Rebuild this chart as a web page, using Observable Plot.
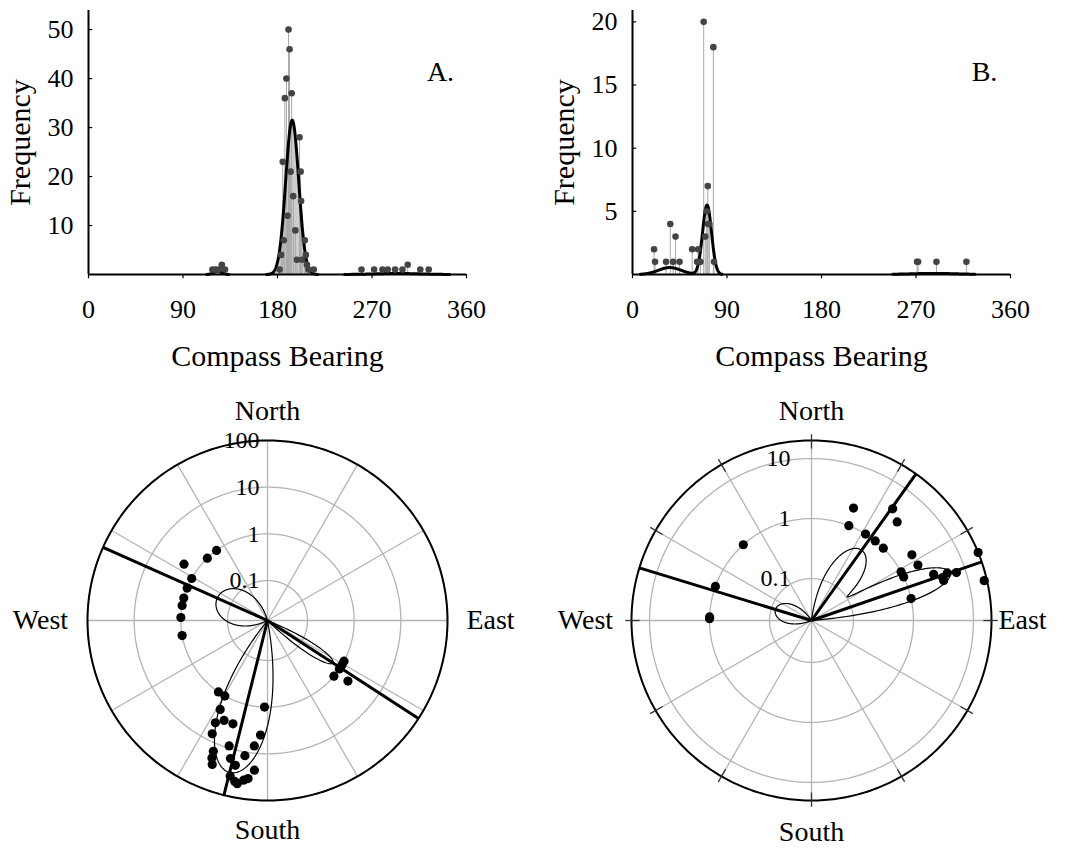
<!DOCTYPE html>
<html><head><meta charset="utf-8">
<script src="https://cdn.jsdelivr.net/npm/d3@7"></script>
<script src="https://cdn.jsdelivr.net/npm/@observablehq/plot@0.6"></script>
<style>
body{margin:0;background:#fff;}
#wrap{position:relative;width:1069px;height:848px;background:#fff;}
#wrap > svg{position:absolute;overflow:visible;}
</style></head><body><div id="wrap"></div>
<script>
// ---------- Panel A data (bearing in degrees, frequency) ----------
const bearingsA = [118,121,124,127,130,
  182,183.5,185,186,187,188.5,189.5,190.5,191.5,192.5,193.5,195,197,198.5,201,202,202.5,203.5,206,207,208,209.5,214.5,
  260,272,280,285,292,299,304,316,324];
const freqA = [1,1,1,2,1,
  1,4,23,7,36,40,12,50,46,21,37,16,9,3,28,21,15,3,7,4,2,1,1,
  1,1,1,1,1,1,2,1,1];
// fitted mixture components (mean direction, peak height, concentration)
const compMuA = [123, 194, 294];
const compPeakA = [0.65, 31.5, 0.21];
const compKappaA = [220, 85, 7.5];

// ---------- Panel B data ----------
const bearingsB = [20.5,21.5,32,36,38.7,41,44.8,56.8,61.5,62.5,64.7,67.8,69.3,70.7,71.7,71.9,73.2,77,77.6,
  271,272,289.5,318];
const freqB = [2,1,1,4,1,3,1,2,1,2,1,20,3,5,7,4,4,18,1,
  1,1,1,1];
const compMuB = [35.5, 71, 287];
const compPeakB = [0.55, 5.5, 0.085];
const compKappaB = [28, 180, 6.4];

// ---------- axes / grid values ----------
const xTicks = [0, 90, 180, 270, 360];
const yTicksA = [10, 20, 30, 40, 50];
const yTicksB = [5, 10, 15, 20];
const yMaxA = 53.9, yMaxB = 20.9;
const ringValsA = [0.1, 1, 10, 100], ringLabelsA = ["0.1", "1", "10", "100"];
const ringValsB = [0.1, 1, 10], ringLabelsB = ["0.1", "1", "10"];
const floorA = 0.0139, outerA = 100;
const floorB = 0.02, outerB = 20;
const spokeAngles = [0,30,60,90,120,150,180,210,240,270,300,330];
const compassLabels = ["North", "South", "West", "East"];

const FONT = "'Liberation Serif','Times New Roman',serif";
const rad = d => d * Math.PI / 180;
const zipData = (bs, fs) => bs.map((b, i) => ({b, f: fs[i]}));
const comps = (mu, pk, ka) => mu.map((m, i) => ({mu: m, peak: pk[i], kappa: ka[i]}));
const density = (b, cs) => d3.sum(cs, c => c.peak * Math.exp(c.kappa * (Math.cos(rad(b - c.mu)) - 1)));
const T = {textAnchor: "middle", lineAnchor: "middle", fontFamily: FONT, fill: "black"};

function histPanel({data, cs, floor, yMax, yTicks, letter, fill, width, marginRight}) {
  const curve = d3.range(0, 360.001, 0.25).map(b => ({b, v: density(b, cs)}));
  const cy = d => d.v >= floor ? d.v : NaN;
  const marks = [];
  if (fill) marks.push(Plot.areaY(curve, {x: "b", y: cy, fill: "#cdcdcd"}));
  marks.push(
    Plot.ruleX(data, {x: "b", y1: 0, y2: "f", stroke: "#a8a8a8", strokeWidth: 1}),
    Plot.line(curve, {x: "b", y: cy, stroke: "black", strokeWidth: 3}),
    Plot.dot(data, {x: "b", y: "f", r: 3.3, fill: "#444", stroke: "none"}),
    Plot.ruleX([0], {stroke: "black", strokeWidth: 2}),
    Plot.ruleY([0], {stroke: "black", strokeWidth: 2}),
    Plot.ruleY(yTicks, {x1: 0, x2: 4, stroke: "black", strokeWidth: 1.2}),
    Plot.ruleX(xTicks, {x: d => d, y1: 0, y2: -yMax * 0.016, stroke: "black", strokeWidth: 1.2}),
    Plot.text(xTicks, {...T, x: d => d, y: 0, text: d => String(d), dy: 35, fontSize: 26}),
    Plot.text(yTicks, {...T, textAnchor: "end", x: 0, y: d => d, text: d => String(d), dx: -15, fontSize: 26}),
    Plot.text(["Frequency"], {...T, text: d => d, frameAnchor: "left", rotate: -90, dx: -68, fontSize: 30}),
    Plot.text(["Compass Bearing"], {...T, text: d => d, frameAnchor: "bottom", dy: 82, fontSize: 30}),
    Plot.text([letter], {...T, text: d => d, frameAnchor: "top-right", dx: -26, dy: 62, fontSize: 28})
  );
  return Plot.plot({
    width, height: 400,
    marginLeft: 88, marginRight, marginTop: 10, marginBottom: 126,
    x: {domain: [0, 360], axis: null},
    y: {domain: [0, yMax], axis: null},
    style: {fontFamily: FONT, background: "transparent", overflow: "visible"},
    marks
  });
}

function polarPanel({data, cs, floor, outer, ringVals, ringLabels, labelDx, ticks, width, marginRight, labelOffsets}) {
  const lo = Math.log10(floor), hi = Math.log10(outer);
  const rho = v => v <= floor ? 0 : (Math.log10(v) - lo) / (hi - lo);
  const px = (b, r) => r * Math.sin(rad(b));
  const py = (b, r) => r * Math.cos(rad(b));
  const angles = d3.range(0, 360.001, 1);
  const rings = ringVals.flatMap(v => angles.map(b => ({v, b})));
  const outerRing = angles.map(b => ({b}));
  const lobe = d3.range(0, 360.001, 0.25).map(b => ({b, r: rho(density(b, cs))}));
  const ringText = ringVals.map((v, i) => ({v, label: ringLabels[i]}));
  const marks = [
    Plot.line(rings, {x: d => px(d.b, rho(d.v)), y: d => py(d.b, rho(d.v)), z: "v", stroke: "#b4b4b4", strokeWidth: 1.3}),
    Plot.link(spokeAngles, {x1: 0, y1: 0, x2: b => px(b, 1), y2: b => py(b, 1), stroke: "#b4b4b4", strokeWidth: 1.3}),
    Plot.line(outerRing, {x: d => px(d.b, 1), y: d => py(d.b, 1), stroke: "black", strokeWidth: 2}),
  ];
  if (ticks) marks.push(Plot.link(spokeAngles, {x1: b => px(b, 0.955), y1: b => py(b, 0.955), x2: b => px(b, 1.035), y2: b => py(b, 1.035), stroke: "#333", strokeWidth: 1.3}));
  marks.push(
    Plot.text(ringText, {...T, textAnchor: "end", x: 0, y: d => rho(d.v), text: "label", dx: labelDx, fontSize: 24}),
    Plot.line(lobe, {x: d => px(d.b, d.r), y: d => py(d.b, d.r), stroke: "black", strokeWidth: 1.2}),
    Plot.link(cs, {x1: 0, y1: 0, x2: c => px(c.mu, 1), y2: c => py(c.mu, 1), stroke: "black", strokeWidth: 3}),
    Plot.dot(data, {x: d => px(d.b, rho(d.f)), y: d => py(d.b, rho(d.f)), r: 4.6, fill: "black", stroke: "none"}),
    Plot.text([compassLabels[0]], {...T, text: d => d, frameAnchor: "top", dy: labelOffsets[0], fontSize: 28}),
    Plot.text([compassLabels[1]], {...T, text: d => d, frameAnchor: "bottom", dy: labelOffsets[1], fontSize: 28}),
    Plot.text([compassLabels[2]], {...T, text: d => d, frameAnchor: "left", dx: labelOffsets[2], fontSize: 28}),
    Plot.text([compassLabels[3]], {...T, text: d => d, frameAnchor: "right", dx: labelOffsets[3], fontSize: 28})
  );
  return Plot.plot({
    width, height: 448,
    marginLeft: 87, marginRight, marginTop: 40, marginBottom: 48,
    x: {domain: [-1, 1], axis: null},
    y: {domain: [-1, 1], axis: null},
    style: {fontFamily: FONT, background: "transparent", overflow: "visible"},
    marks
  });
}

const wrap = document.getElementById("wrap");
function place(svg, left, top) {
  svg.style.left = left + "px";
  svg.style.top = top + "px";
  wrap.appendChild(svg);
}

const dataA = zipData(bearingsA, freqA);
const dataB = zipData(bearingsB, freqB);
const csA = comps(compMuA, compPeakA, compKappaA);
const csB = comps(compMuB, compPeakB, compKappaB);

place(histPanel({data: dataA, cs: csA, floor: floorA, yMax: yMaxA, yTicks: yTicksA, letter: "A.", fill: true, width: 520, marginRight: 54}), 0, 0);
place(histPanel({data: dataB, cs: csB, floor: floorB, yMax: yMaxB, yTicks: yTicksB, letter: "B.", fill: false, width: 525, marginRight: 59}), 544, 0);
place(polarPanel({data: dataA, cs: csA, floor: floorA, outer: outerA, ringVals: ringValsA, ringLabels: ringLabelsA, labelDx: -8, ticks: false, width: 534, marginRight: 87, labelOffsets: [-29, 30, -47, 43]}), 0, 400);
place(polarPanel({data: dataB, cs: csB, floor: floorB, outer: outerB, ringVals: ringValsB, ringLabels: ringLabelsB, labelDx: -21, ticks: true, width: 525, marginRight: 78, labelOffsets: [-29, 32, -46, 31]}), 544, 400);
</script></body></html>
